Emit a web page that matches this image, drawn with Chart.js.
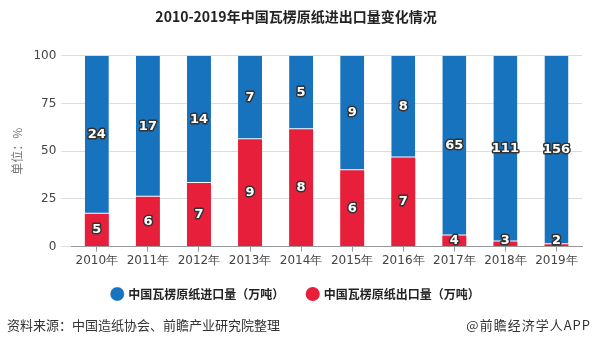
<!DOCTYPE html>
<html>
<head>
<meta charset="utf-8">
<script src="https://cdn.jsdelivr.net/npm/chart.js@4"></script>
<style>
    html, body { margin: 0; padding: 0; background: #fff; }
    #wrap { position: relative; width: 593px; height: 346px; font-family: "Noto Sans CJK SC", "Noto Sans", sans-serif; }
    #chart { position: absolute; left: 0; top: 0; }
    .foot { position: absolute; top: 315px; font-size: 13px; line-height: 19px; color: #333; }
</style>
</head>
<body>
<div id="wrap">
    <canvas id="chart" width="593" height="346"></canvas>
    <div class="foot" style="left:7px;">资料来源：中国造纸协会、前瞻产业研究院整理</div>
    <div class="foot" style="right:2px; letter-spacing:1px;">@前瞻经济学人APP</div>
</div>
<script>
const years = ['2010年', '2011年', '2012年', '2013年', '2014年', '2015年', '2016年', '2017年', '2018年', '2019年'];
const importVol = [24, 17, 14, 7, 5, 9, 8, 65, 111, 156];   // 万吨
const exportVol = [5, 6, 7, 9, 8, 6, 7, 4, 3, 2];          // 万吨
const yTicks = [0, 25, 50, 75, 100];

const BLUE = '#1873be';
const RED = '#e81f3a';

// shares of total, in percent
const exportPct = exportVol.map((v, i) => v / (v + importVol[i]) * 100);
const importPct = importVol.map((v, i) => v / (v + exportVol[i]) * 100);

// white numbers with a dark outline, in the middle of each segment
const segmentLabels = {
    id: 'segmentLabels',
    afterDatasetsDraw(chart) {
        const ctx = chart.ctx;
        const bottom = chart.scales.y.getPixelForValue(0);
        ctx.save();
        ctx.font = 'bold 13px "DejaVu Sans", sans-serif';
        ctx.textAlign = 'center';
        ctx.textBaseline = 'middle';
        ctx.lineJoin = 'round';
        chart.data.datasets.forEach((ds, di) => {
            chart.getDatasetMeta(di).data.forEach((bar, i) => {
                let y = (bar.y + bar.base) / 2;
                // small bottom segments keep their number just above the axis
                if (di === 0) y = Math.min(y, bottom - 6);
                ctx.lineWidth = 3;
                ctx.strokeStyle = '#333';
                ctx.strokeText(ds.raw[i], bar.x, y);
                ctx.fillStyle = '#fff';
                ctx.fillText(ds.raw[i], bar.x, y);
            });
        });
        ctx.restore();
    }
};

new Chart(document.getElementById('chart'), {
    type: 'bar',
    data: {
        labels: years,
        datasets: [{
            label: '中国瓦楞原纸出口量（万吨）',
            data: exportPct,
            raw: exportVol,
            backgroundColor: RED,
            borderWidth: 0
        }, {
            label: '中国瓦楞原纸进口量（万吨）',
            data: importPct,
            raw: importVol,
            backgroundColor: BLUE,
            borderColor: '#fff',
            borderWidth: { bottom: 1 },
            borderSkipped: false
        }]
    },
    options: {
        responsive: false,
        animation: false,
        layout: { padding: { left: 10, right: 11, top: 4, bottom: 36 } },
        barPercentage: 0.47,
        categoryPercentage: 1,
        plugins: {
            title: {
                display: true,
                text: '2010-2019年中国瓦楞原纸进出口量变化情况',
                color: '#222',
                font: { size: 14, weight: 'bold', family: '"Noto Sans CJK SC", sans-serif' },
                padding: { top: 4, bottom: 31 }
            },
            legend: {
                position: 'bottom',
                reverse: true,
                labels: {
                    usePointStyle: true,
                    pointStyle: 'circle',
                    boxWidth: 10,
                    boxHeight: 10,
                    padding: 18,
                    color: '#222',
                    font: { size: 12, weight: 'bold', family: '"Noto Sans CJK SC", sans-serif' },
                    generateLabels(chart) {
                        const items = Chart.defaults.plugins.legend.labels.generateLabels(chart);
                        items.forEach(it => { if (it.datasetIndex === 1) it.text += '  '; });
                        return items;
                    }
                }
            },
            tooltip: { enabled: false }
        },
        scales: {
            x: {
                stacked: true,
                grid: { display: true, drawOnChartArea: false, offset: false, tickLength: 5, color: '#999' },
                border: { color: '#999' },
                ticks: { color: '#444', font: { size: 12, family: '"DejaVu Sans", sans-serif' }, padding: 2 }
            },
            y: {
                stacked: true,
                min: 0,
                max: 100,
                afterBuildTicks(axis) { axis.ticks = yTicks.map(v => ({ value: v })); },
                grid: { color: '#ddd', drawTicks: true, tickLength: 10 },
                border: { display: false },
                ticks: { color: '#444', font: { size: 12, family: '"DejaVu Sans", sans-serif' }, padding: 5 },
                title: {
                    display: true,
                    text: '单位：%',
                    color: '#777',
                    font: { size: 12, family: '"Noto Sans CJK SC", sans-serif' },
                    padding: { top: 0, bottom: 4 }
                }
            }
        }
    },
    plugins: [segmentLabels]
});
</script>
</body>
</html>
